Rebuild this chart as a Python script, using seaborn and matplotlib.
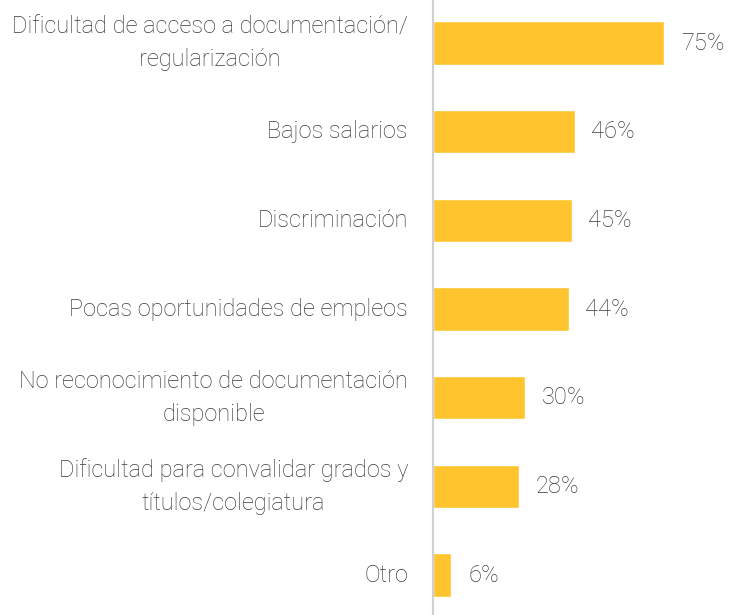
import matplotlib
matplotlib.use("Agg")
import matplotlib.pyplot as plt
import seaborn as sns
import pandas as pd

categorias = [
    "Dificultad de acceso a documentación/\nregularización",
    "Bajos salarios",
    "Discriminación",
    "Pocas oportunidades de empleos",
    "No reconocimiento de documentación\ndisponible",
    "Dificultad para convalidar grados y\ntítulos/colegiatura",
    "Otro",
]
porcentajes = [75, 46, 45, 44, 30, 28, 6]

df = pd.DataFrame({"categoria": categorias, "pct": porcentajes})

sns.set_theme(style="white")
plt.rcParams["font.family"] = ["Roboto", "DejaVu Sans"]

fig = plt.figure(figsize=(7.3, 6.15), dpi=100)
ax = fig.add_axes([433 / 730, 0.0, 292.6 / 730, 1.0])

sns.barplot(data=df, x="pct", y="categoria", orient="h", color="#FFC42E",
            saturation=1, width=0.49, ax=ax)

ax.set_xlim(0, 95)
ax.set_ylim(6.45, -0.485)
ax.set_xlabel("")
ax.set_ylabel("")
ax.set_xticks([])
ax.set_yticks([])
for side in ("top", "right", "bottom"):
    ax.spines[side].set_visible(False)
ax.spines["left"].set_color("#d0d0d0")
ax.spines["left"].set_linewidth(1.5)

text_color = "#3c3c3c"
for i, (cat, v) in enumerate(zip(categorias, porcentajes)):
    ax.annotate(f"{v}%", xy=(v, i), xytext=(12, 0), textcoords="offset points",
                ha="left", va="center", fontsize=17, color=text_color,
                fontweight="light")
    ax.annotate(cat, xy=(0, i), xytext=(-18, 0), textcoords="offset points",
                ha="right", va="center", multialignment="center",
                fontsize=17, color=text_color, fontweight="light",
                linespacing=1.55, annotation_clip=False)

fig.savefig("out.png", dpi=100)
